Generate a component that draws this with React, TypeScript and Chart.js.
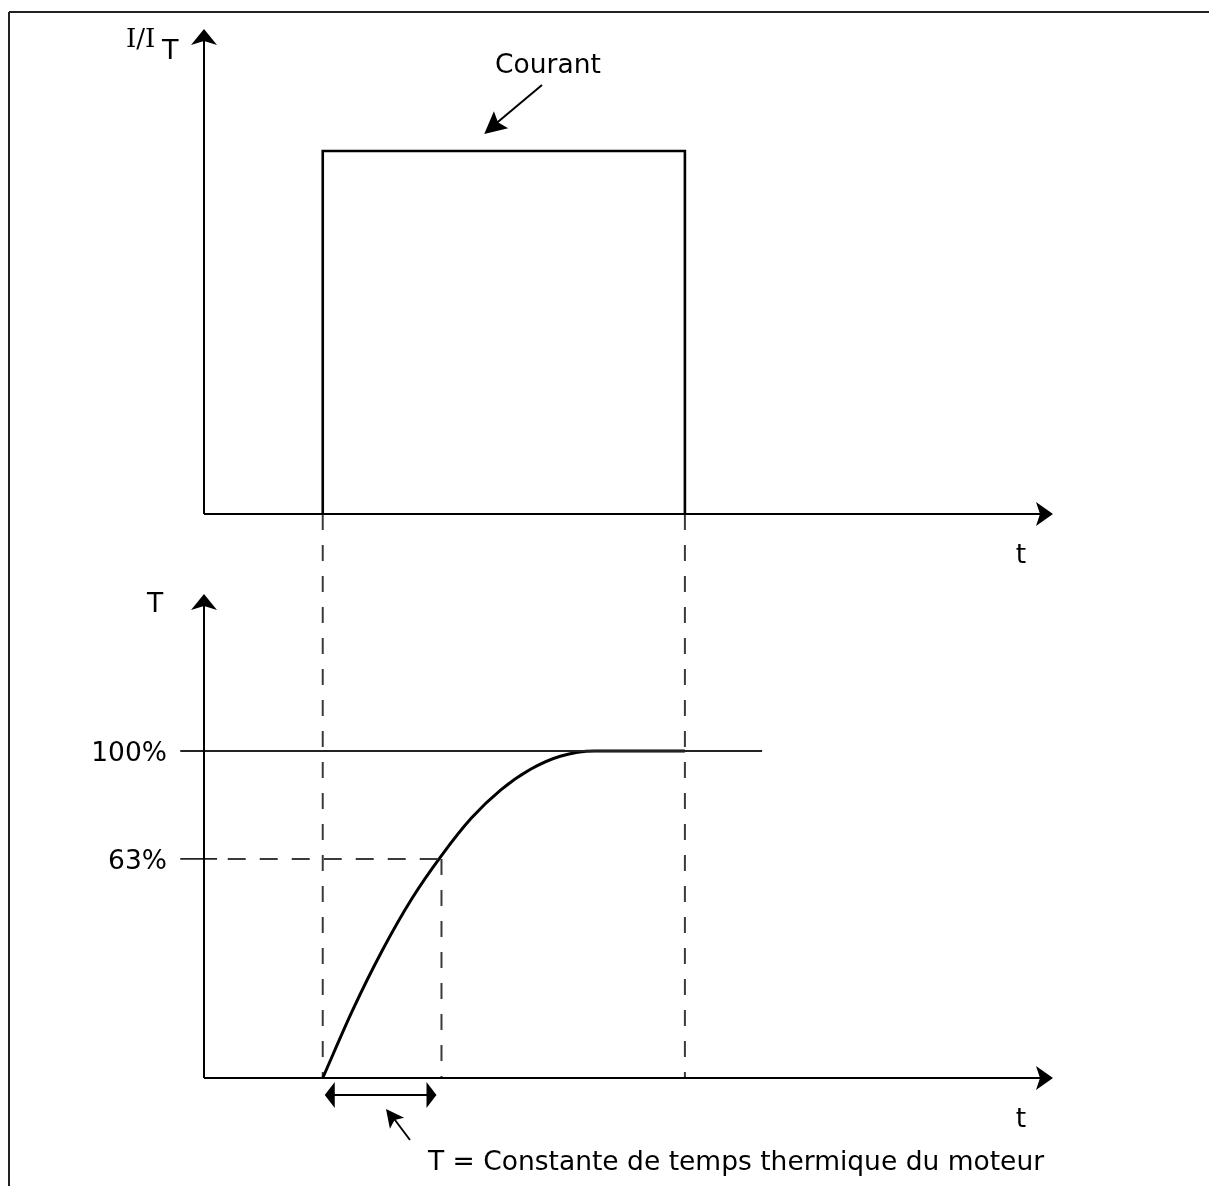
import React, { useEffect, useRef } from "react";
import { Chart, registerables } from "chart.js";

Chart.register(...registerables);

const W = 1209;
const H = 1186;

// time axis, in units of the motor thermal time constant
const timeAxisMax = 7.15;
const tauTime = 2.0;

// current pulse (I / I_T)
const pulseTime = [1, 1, 4.05, 4.05];
const pulseCurrent = [0, 1, 1, 0];

// motor temperature (% of final value)
const tempTime = [1.0, 1.25, 1.5, 1.75, 2.0, 2.25, 2.5, 2.75, 3.0, 3.29, 4.05];
const tempPct = [0, 20.6, 38.9, 54.8, 68.0, 79.4, 88.1, 94.4, 98.4, 100, 100];

// level markers on the temperature axis
const levelLabels = ["100%", "63%"];
const levelValues = [100, 67];
const fullLineTime = [-0.2, 4.7];
const tickTime = [-0.2, 0.11];
const tickDashTime = [0.2, 1.98];

// axis extents
const iAxisTop = 1.336;
const iAxisBottom = -1.554;
const tAxisTop = 148;
const tAxisMax = 320.8;

const FONT = '"DejaVu Sans", Verdana, sans-serif';

function arrowHead(
  ctx: CanvasRenderingContext2D,
  tipX: number,
  tipY: number,
  angle: number,
  len: number,
  half: number,
  notch: number
) {
  const dx = Math.cos(angle);
  const dy = Math.sin(angle);
  const px = -dy;
  const py = dx;
  const bx = tipX - len * dx;
  const by = tipY - len * dy;
  ctx.beginPath();
  ctx.moveTo(tipX, tipY);
  ctx.lineTo(bx + half * px, by + half * py);
  ctx.lineTo(tipX - (len - notch) * dx, tipY - (len - notch) * dy);
  ctx.lineTo(bx - half * px, by - half * py);
  ctx.closePath();
  ctx.fill();
}

function line(ctx: CanvasRenderingContext2D, x1: number, y1: number, x2: number, y2: number) {
  ctx.beginPath();
  ctx.moveTo(x1, y1);
  ctx.lineTo(x2, y2);
  ctx.stroke();
}

const diagramPlugin = {
  id: "diagram",
  beforeDatasetsDraw(chart: any) {
    const ctx: CanvasRenderingContext2D = chart.ctx;
    const xs = chart.scales.x;
    const yI = chart.scales.yI;
    const yT = chart.scales.yT;
    ctx.save();
    // frame
    ctx.strokeStyle = "#222";
    ctx.lineWidth = 2;
    line(ctx, 9, 12, W, 12);
    line(ctx, 9, 12, 9, H);
    // dashed projection lines
    ctx.strokeStyle = "#3a3a3a";
    ctx.lineWidth = 2;
    ctx.setLineDash([16, 15]);
    [pulseTime[0], pulseTime[2]].forEach((t) => {
      const x = xs.getPixelForValue(t);
      line(ctx, x, yI.getPixelForValue(0), x, yT.getPixelForValue(0));
    });
    const xt = xs.getPixelForValue(tauTime);
    line(ctx, xt, yT.getPixelForValue(levelValues[1]), xt, yT.getPixelForValue(0));
    ctx.restore();
  },
  afterDatasetsDraw(chart: any) {
    const ctx: CanvasRenderingContext2D = chart.ctx;
    const xs = chart.scales.x;
    const yI = chart.scales.yI;
    const yT = chart.scales.yT;
    const x0 = xs.getPixelForValue(0);
    const xEnd = xs.getPixelForValue(timeAxisMax);
    const yI0 = yI.getPixelForValue(0);
    const yT0 = yT.getPixelForValue(0);
    const yITop = yI.getPixelForValue(iAxisTop);
    const yTTop = yT.getPixelForValue(tAxisTop);
    ctx.save();
    ctx.strokeStyle = "#000";
    ctx.fillStyle = "#000";
    ctx.lineWidth = 2;
    // axes
    line(ctx, x0, yI0, x0, yITop + 10);
    line(ctx, x0, yI0, xEnd - 10, yI0);
    line(ctx, x0, yT0, x0, yTTop + 10);
    line(ctx, x0, yT0, xEnd - 10, yT0);
    arrowHead(ctx, x0, yITop, -Math.PI / 2, 16, 13, 4);
    arrowHead(ctx, x0, yTTop, -Math.PI / 2, 16, 13, 4);
    arrowHead(ctx, xEnd, yI0, 0, 17, 12, 4);
    arrowHead(ctx, xEnd, yT0, 0, 17, 12, 4);

    // time-constant double arrow
    const xa = xs.getPixelForValue(pulseTime[0]) + 2;
    const xb = xs.getPixelForValue(tauTime) - 5;
    const ya = yT0 + 17;
    line(ctx, xa + 6, ya, xb - 6, ya);
    arrowHead(ctx, xa, ya, Math.PI, 10, 13, 0);
    arrowHead(ctx, xb, ya, 0, 10, 13, 0);

    // pointer to the explanation
    ctx.lineWidth = 1.8;
    line(ctx, 410, yT0 + 62, 392, yT0 + 38);
    arrowHead(ctx, 386, yT0 + 31, Math.atan2(-31, -24), 18, 9, 4);

    // "Courant" pointer
    const tipX = xs.getPixelForValue(2.36);
    const tipY = yI.getPixelForValue(1) - 17;
    ctx.lineWidth = 2;
    line(ctx, 542, 85, tipX + 10, tipY - 9);
    arrowHead(ctx, tipX, tipY, Math.atan2(tipY - 85, tipX - 542), 22, 11, 4);

    // texts
    ctx.textBaseline = "alphabetic";
    ctx.font = `26px "DejaVu Serif", serif`;
    ctx.textAlign = "left";
    ctx.fillText("I/I", 126, 47);
    ctx.font = `27px ${FONT}`;
    ctx.fillText("T", 162, 59);

    ctx.font = `26.5px ${FONT}`;
    ctx.textAlign = "center";
    ctx.fillText("Courant", 548, 73);
    ctx.fillText("T", 155, yTTop + 18);
    ctx.fillText("t", 1021, yI0 + 49);
    ctx.fillText("t", 1021, yT0 + 49);

    ctx.textAlign = "right";
    levelLabels.forEach((lab, i) => {
      ctx.fillText(lab, x0 - 37, yT.getPixelForValue(levelValues[i]) + 10);
    });

    ctx.textAlign = "left";
    ctx.fillText("T = Constante de temps thermique du moteur", 428, yT0 + 92);
    ctx.restore();
  },
};

const pts = (xs: number[], ys: number[]) => xs.map((x, i) => ({ x, y: ys[i] }));

export default function App() {
  const ref = useRef<HTMLCanvasElement | null>(null);

  useEffect(() => {
    if (!ref.current) return;
    const chart = new Chart(ref.current, {
      type: "line",
      data: {
        datasets: [
          {
            label: "Courant",
            data: pts(pulseTime, pulseCurrent),
            yAxisID: "yI",
            borderColor: "#000",
            borderWidth: 2.6,
            tension: 0,
            pointRadius: 0,
            clip: false,
          } as any,
          {
            label: "100%",
            data: pts(fullLineTime, [levelValues[0], levelValues[0]]),
            yAxisID: "yT",
            borderColor: "#222",
            borderWidth: 1.8,
            pointRadius: 0,
            clip: false,
          } as any,
          {
            label: "63% tick",
            data: pts(tickTime, [levelValues[1], levelValues[1]]),
            yAxisID: "yT",
            borderColor: "#222",
            borderWidth: 1.8,
            pointRadius: 0,
            clip: false,
          } as any,
          {
            label: "63% dash",
            data: pts(tickDashTime, [levelValues[1], levelValues[1]]),
            yAxisID: "yT",
            borderColor: "#3a3a3a",
            borderWidth: 2,
            borderDash: [18, 14],
            pointRadius: 0,
            clip: false,
          } as any,
          {
            label: "Température",
            data: pts(tempTime, tempPct),
            yAxisID: "yT",
            borderColor: "#000",
            borderWidth: 3,
            cubicInterpolationMode: "monotone",
            pointRadius: 0,
            clip: false,
          } as any,
        ],
      },
      options: {
        animation: false,
        responsive: false,
        layout: { padding: { left: 204, right: 156, top: 29, bottom: 108 } },
        plugins: { legend: { display: false }, tooltip: { enabled: false } },
        scales: {
          x: { type: "linear", min: 0, max: timeAxisMax, display: false },
          yI: { type: "linear", min: iAxisBottom, max: iAxisTop, display: false },
          yT: { type: "linear", min: 0, max: tAxisMax, display: false },
        },
      },
      plugins: [diagramPlugin],
    });
    return () => chart.destroy();
  }, []);

  return (
    <div style={{ position: "absolute", left: 0, top: 0, width: W, height: H, background: "#fff" }}>
      <canvas ref={ref} width={W} height={H} style={{ width: W, height: H, display: "block" }} />
    </div>
  );
}
